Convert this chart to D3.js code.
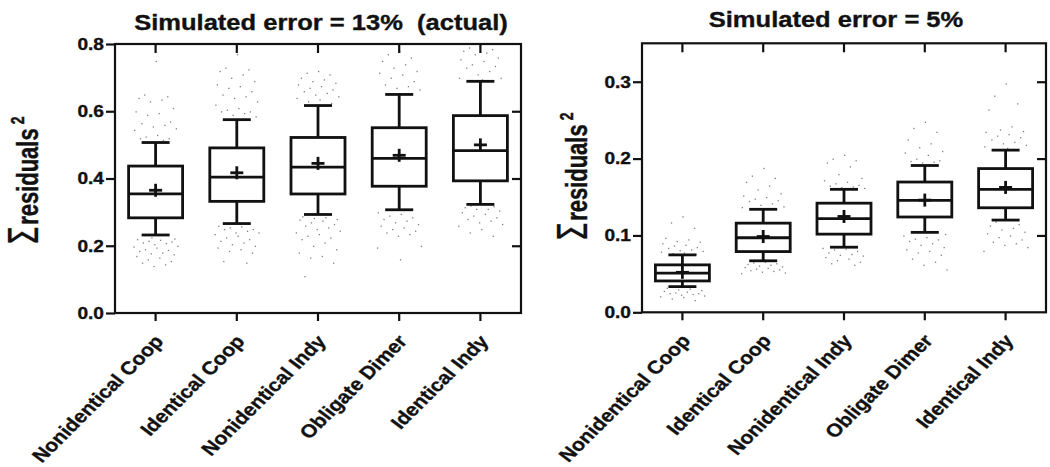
<!DOCTYPE html>
<html>
<head>
<meta charset="utf-8">
<script src="https://cdn.jsdelivr.net/npm/d3@7"></script>
<style>
  body { margin: 0; background: #fff; }
  svg text { font-family: "Liberation Sans", Arial, sans-serif; font-weight: bold; fill: #111; stroke: #111; stroke-width: 0.35; }
</style>
</head>
<body>
<svg id="chart" width="1050" height="467"></svg>
<script>
const categories = ["Nonidentical Coop", "Identical Coop", "Nonidentical Indy", "Obligate Dimer", "Identical Indy"];

// left panel: simulated error = 13% (actual)
const actualTitle = "Simulated error = 13%  (actual)";
const actualTicks = [0, 0.2, 0.4, 0.6, 0.8];
const actualLow = [0.232, 0.266, 0.293, 0.307, 0.323];
const actualQ1 = [0.283, 0.332, 0.354, 0.377, 0.393];
const actualMedian = [0.354, 0.404, 0.434, 0.460, 0.483];
const actualQ3 = [0.437, 0.491, 0.522, 0.551, 0.587];
const actualHigh = [0.507, 0.575, 0.617, 0.650, 0.689];
const actualMean = [0.365, 0.417, 0.445, 0.469, 0.500];
const actualOutliers = [
  [0.75, 0.65, 0.645, 0.64, 0.635, 0.63, 0.61, 0.60, 0.595, 0.59, 0.57, 0.565, 0.56, 0.555, 0.55, 0.545, 0.53, 0.525, 0.52, 0.52, 0.515,
   0.225, 0.222, 0.22, 0.218, 0.215, 0.213, 0.21, 0.208, 0.205, 0.2, 0.198, 0.195, 0.19, 0.188, 0.185, 0.18, 0.178, 0.175, 0.17, 0.165, 0.16, 0.155, 0.15, 0.145, 0.14],
  [0.77, 0.73, 0.725, 0.72, 0.71, 0.70, 0.69, 0.68, 0.675, 0.67, 0.66, 0.65, 0.645, 0.64, 0.63, 0.62, 0.61, 0.605, 0.60, 0.60, 0.595, 0.59, 0.585,
   0.26, 0.258, 0.255, 0.25, 0.25, 0.245, 0.24, 0.24, 0.235, 0.23, 0.225, 0.22, 0.215, 0.21, 0.205, 0.2, 0.195, 0.19, 0.185, 0.18, 0.155, 0.15],
  [0.72, 0.715, 0.71, 0.70, 0.695, 0.69, 0.685, 0.68, 0.675, 0.67, 0.665, 0.66, 0.655, 0.65, 0.645, 0.64, 0.635, 0.63, 0.625,
   0.288, 0.285, 0.283, 0.28, 0.278, 0.275, 0.27, 0.265, 0.26, 0.255, 0.25, 0.245, 0.24, 0.235, 0.23, 0.225, 0.22, 0.21, 0.2, 0.19, 0.18, 0.17, 0.165, 0.15, 0.11],
  [0.78, 0.77, 0.76, 0.75, 0.74, 0.73, 0.72, 0.715, 0.71, 0.70, 0.69, 0.68, 0.675, 0.67, 0.665,
   0.30, 0.295, 0.29, 0.285, 0.28, 0.275, 0.27, 0.265, 0.26, 0.255, 0.25, 0.245, 0.24, 0.235, 0.23, 0.2, 0.195, 0.16],
  [0.80, 0.79, 0.785, 0.78, 0.775, 0.77, 0.76, 0.755, 0.75, 0.74, 0.735, 0.73, 0.72, 0.71, 0.70, 0.70, 0.695,
   0.32, 0.318, 0.315, 0.31, 0.31, 0.305, 0.30, 0.295, 0.29, 0.285, 0.28, 0.275, 0.27, 0.265, 0.26, 0.25, 0.24, 0.23]
];

// right panel: simulated error = 5%
const lowTitle = "Simulated error = 5%";
const lowTicks = [0, 0.1, 0.2, 0.3];
const lowLow = [0.0334, 0.067, 0.0847, 0.104, 0.120];
const lowQ1 = [0.0408, 0.079, 0.1017, 0.124, 0.136];
const lowMedian = [0.051, 0.097, 0.122, 0.1455, 0.160];
const lowQ3 = [0.0617, 0.116, 0.142, 0.1695, 0.187];
const lowHigh = [0.0747, 0.134, 0.160, 0.191, 0.211];
const lowMean = [0.052, 0.0986, 0.1247, 0.146, 0.1625];
const lowOutliers = [
  [0.125, 0.117, 0.11, 0.097, 0.095, 0.093, 0.092, 0.09, 0.088, 0.087, 0.085, 0.084, 0.082, 0.081, 0.08, 0.079, 0.078, 0.077, 0.076,
   0.032, 0.031, 0.03, 0.029, 0.028, 0.027, 0.026, 0.025, 0.025, 0.024, 0.023, 0.022, 0.021, 0.02, 0.018, 0.016],
  [0.188, 0.178, 0.175, 0.17, 0.165, 0.16, 0.155, 0.152, 0.15, 0.148, 0.146, 0.145, 0.142, 0.14, 0.138, 0.137,
   0.066, 0.065, 0.064, 0.063, 0.062, 0.061, 0.06, 0.059, 0.058, 0.057, 0.056, 0.055, 0.054, 0.053, 0.052, 0.051],
  [0.205, 0.2, 0.198, 0.195, 0.19, 0.18, 0.175, 0.172, 0.17, 0.168, 0.166, 0.165, 0.164, 0.163, 0.162,
   0.084, 0.083, 0.082, 0.08, 0.078, 0.076, 0.075, 0.074, 0.072, 0.07, 0.068, 0.066, 0.064, 0.062],
  [0.248, 0.24, 0.235, 0.225, 0.22, 0.215, 0.21, 0.208, 0.205, 0.2, 0.198, 0.197, 0.196, 0.195,
   0.102, 0.1, 0.098, 0.096, 0.095, 0.093, 0.09, 0.088, 0.085, 0.082, 0.08, 0.078, 0.075, 0.07, 0.066, 0.062, 0.056],
  [0.298, 0.282, 0.272, 0.264, 0.242, 0.238, 0.236, 0.235, 0.232, 0.23, 0.228, 0.225, 0.222, 0.22, 0.218, 0.216, 0.214,
   0.118, 0.115, 0.113, 0.11, 0.108, 0.105, 0.103, 0.1, 0.098, 0.095, 0.092, 0.09, 0.088, 0.085, 0.08]
];

const svg = d3.select("#chart");
const SX = 1.16;      // the original figure's text is stretched horizontally
const fmt = d3.format(".1f");

function stretch(x, y, rot, sx) {
  return "translate(" + x + "," + y + ") scale(" + (sx || SX) + ",1)" + (rot ? " rotate(" + rot + ")" : "");
}

// van der Corput sequence, used to fan the dots out sideways
function vdc(k) {
  let v = 0, f = 0.5;
  k += 1;
  while (k > 0) { v += (k & 1) * f; k >>= 1; f /= 2; }
  return v;
}

function drawPanel(o) {
  const g = svg.append("g");

  const x = d3.scaleBand().domain(categories).range([o.left, o.right]);
  const y = d3.scaleLinear().domain([0, o.max]).range([o.bottom, o.top]);
  const cx = c => x(c) + x.bandwidth() / 2;

  // title
  g.append("text")
    .attr("text-anchor", "middle")
    .attr("font-size", 22)
    .style("white-space", "pre")
    .attr("transform", stretch(o.titleX, o.titleY))
    .text(o.title);

  // outlier dots
  categories.forEach((c, i) => {
    g.append("g").selectAll("rect")
      .data(o.outliers[i])
      .enter().append("rect")
        .attr("x", (d, k) => cx(c) + (vdc(k) - 0.5) * 46)
        .attr("y", d => y(d))
        .attr("width", 1.3)
        .attr("height", 1.3)
        .attr("fill", "#808080");
  });

  // left axis
  const yAxis = g.append("g")
    .attr("transform", "translate(" + o.left + ",0)")
    .call(d3.axisLeft(y).tickValues(o.ticks).tickFormat(fmt).tickSize(9).tickSizeOuter(0).tickPadding(2));
  yAxis.select(".domain").remove();
  yAxis.selectAll("line").attr("stroke", "#111").attr("stroke-width", 2.2);
  yAxis.selectAll("text")
    .attr("font-size", 16.5)
    .attr("fill", "#111")
    .attr("font-family", null)
    .each(function () {
      const t = d3.select(this);
      const tx = +t.attr("x");
      t.attr("x", 0).attr("transform", stretch(tx, 0));
    });

  // inner ticks on right edge
  const rAxis = g.append("g")
    .attr("transform", "translate(" + o.right + ",0)")
    .call(d3.axisRight(y).tickValues(o.ticks.filter(t => t > 0 && t < o.max - 0.01)).tickSize(-9).tickSizeOuter(0).tickFormat(""));
  rAxis.select(".domain").remove();
  rAxis.selectAll("line").attr("stroke", "#111").attr("stroke-width", 2.2);

  // category ticks, top (inward) and bottom (outward)
  const tAxis = g.append("g")
    .attr("transform", "translate(0," + o.top + ")")
    .call(d3.axisTop(x).tickSize(-9).tickSizeOuter(0).tickFormat(""));
  tAxis.select(".domain").remove();
  tAxis.selectAll("line").attr("stroke", "#111").attr("stroke-width", 2.2);

  const bAxis = g.append("g")
    .attr("transform", "translate(0," + o.bottom + ")")
    .call(d3.axisBottom(x).tickSize(8).tickSizeOuter(0).tickFormat(""));
  bAxis.select(".domain").remove();
  bAxis.selectAll("line").attr("stroke", "#111").attr("stroke-width", 2.2);

  // frame
  g.append("rect")
    .attr("x", o.left).attr("y", o.top)
    .attr("width", o.right - o.left).attr("height", o.bottom - o.top)
    .attr("fill", "none").attr("stroke", "#111").attr("stroke-width", 2.2);

  // category labels
  categories.forEach(c => {
    g.append("text")
      .attr("text-anchor", "end")
      .attr("font-size", 18.3)
      .attr("transform", stretch(cx(c) + 9, o.bottom + 29, -49))
      .text(c);
  });

  // y label
  const yl = g.append("text")
    .attr("text-anchor", "middle")
    .attr("transform", stretch(o.labelX, o.labelY, -90, 1.3));
  yl.append("tspan").attr("font-size", 31).attr("font-weight", "normal")
    .attr("font-family", "DejaVu Sans").attr("stroke-width", 0.2).text("\u03A3");
  yl.append("tspan").attr("font-size", 22).attr("dx", 1).text("residuals");
  yl.append("tspan").attr("font-size", 14).attr("dx", 4).attr("dy", -11).text("2");

  // boxes
  const boxW = 54, capW = 28, sw = 2.8;
  const boxes = g.append("g").attr("stroke", "#111").attr("stroke-width", sw).attr("fill", "none");
  categories.forEach((c, i) => {
    const m = cx(c);
    const b = boxes.append("g");
    b.append("line").attr("x1", m).attr("x2", m).attr("y1", y(o.low[i])).attr("y2", y(o.q1[i]));
    b.append("line").attr("x1", m).attr("x2", m).attr("y1", y(o.q3[i])).attr("y2", y(o.high[i]));
    b.append("line").attr("x1", m - capW / 2).attr("x2", m + capW / 2).attr("y1", y(o.low[i])).attr("y2", y(o.low[i]));
    b.append("line").attr("x1", m - capW / 2).attr("x2", m + capW / 2).attr("y1", y(o.high[i])).attr("y2", y(o.high[i]));
    b.append("rect")
      .attr("x", m - boxW / 2).attr("y", y(o.q3[i]))
      .attr("width", boxW).attr("height", y(o.q1[i]) - y(o.q3[i]))
      .attr("fill", "#fff");
    b.append("line").attr("x1", m - boxW / 2).attr("x2", m + boxW / 2).attr("y1", y(o.median[i])).attr("y2", y(o.median[i]));
    // mean marker
    b.append("line").attr("x1", m - 6.5).attr("x2", m + 6.5).attr("y1", y(o.mean[i])).attr("y2", y(o.mean[i]));
    b.append("line").attr("x1", m).attr("x2", m).attr("y1", y(o.mean[i]) - 6.5).attr("y2", y(o.mean[i]) + 6.5);
  });
}

drawPanel({
  title: actualTitle, titleX: 321, titleY: 30,
  left: 115, right: 521, top: 44, bottom: 313, max: 0.8,
  ticks: actualTicks, labelX: 38, labelY: 181,
  low: actualLow, q1: actualQ1, median: actualMedian, q3: actualQ3, high: actualHigh, mean: actualMean,
  outliers: actualOutliers
});

drawPanel({
  title: lowTitle, titleX: 836, titleY: 27,
  left: 642, right: 1046, top: 43.3, bottom: 312.3, max: 0.35,
  ticks: lowTicks, labelX: 587, labelY: 177,
  low: lowLow, q1: lowQ1, median: lowMedian, q3: lowQ3, high: lowHigh, mean: lowMean,
  outliers: lowOutliers
});
</script>
</body>
</html>
